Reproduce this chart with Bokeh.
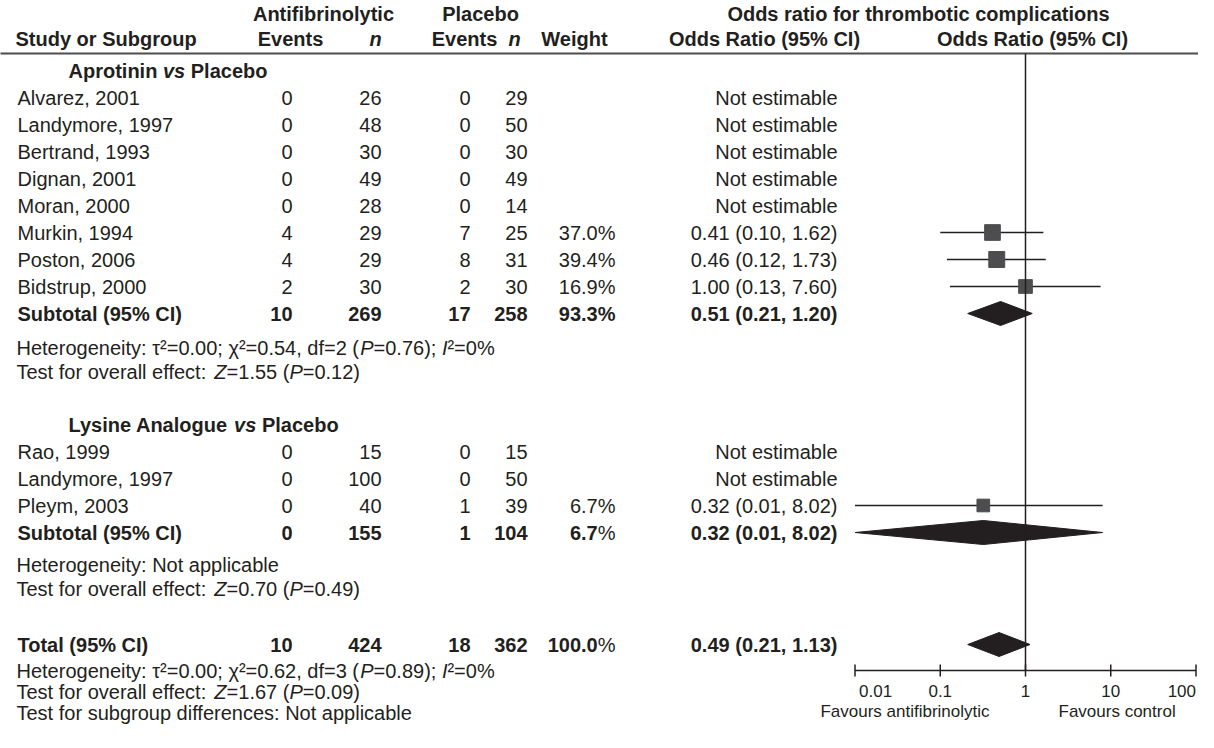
import math
from bokeh.plotting import figure
from bokeh.models import Range1d, LogScale
from bokeh.core.properties import value
from bokeh.embed import file_html
from bokeh.resources import INLINE

# ---------------- data ----------------
group_names = [("Aprotinin ", "vs", " Placebo"), ("Lysine Analogue ", "vs", " Placebo")]

g1_studies = ["Alvarez, 2001", "Landymore, 1997", "Bertrand, 1993", "Dignan, 2001",
              "Moran, 2000", "Murkin, 1994", "Poston, 2006", "Bidstrup, 2000"]
g1_ev_anti = [0, 0, 0, 0, 0, 4, 4, 2]
g1_n_anti = [26, 48, 30, 49, 28, 29, 29, 30]
g1_ev_plac = [0, 0, 0, 0, 0, 7, 8, 2]
g1_n_plac = [29, 50, 30, 49, 14, 25, 31, 30]
g1_weight = [None, None, None, None, None, 37.0, 39.4, 16.9]
g1_or = [None, None, None, None, None, 0.41, 0.46, 1.00]
g1_lo = [None, None, None, None, None, 0.10, 0.12, 0.13]
g1_hi = [None, None, None, None, None, 1.62, 1.73, 7.60]

g2_studies = ["Rao, 1999", "Landymore, 1997", "Pleym, 2003"]
g2_ev_anti = [0, 0, 0]
g2_n_anti = [15, 100, 40]
g2_ev_plac = [0, 0, 1]
g2_n_plac = [15, 50, 39]
g2_weight = [None, None, 6.7]
g2_or = [None, None, 0.32]
g2_lo = [None, None, 0.01]
g2_hi = [None, None, 8.02]

# subtotal group 1, subtotal group 2, total
sum_labels = ["Subtotal (95% CI)", "Subtotal (95% CI)", "Total (95% CI)"]
sum_ev_anti = [10, 0, 10]
sum_n_anti = [269, 155, 424]
sum_ev_plac = [17, 1, 18]
sum_n_plac = [258, 104, 362]
sum_weight = [93.3, 6.7, 100.0]
sum_or = [0.51, 0.32, 0.49]
sum_lo = [0.21, 0.01, 0.21]
sum_hi = [1.20, 8.02, 1.13]

het_tau2 = [0.00, None, 0.00]
het_chi2 = [0.54, None, 0.62]
het_df = [2, None, 3]
het_p = [0.76, None, 0.89]
het_i2 = [0, None, 0]
eff_z = [1.55, 0.70, 1.67]
eff_p = [0.12, 0.49, 0.09]

axis_ticks = [0.01, 0.1, 1, 10, 100]
axis_tick_labels = ["0.01", "0.1", "1", "10", "100"]
favours = ["Favours antifibrinolytic", "Favours control"]

# ---------------- style / layout ----------------
FONT = "Liberation Sans"
FS = 20
INK = "#231f20"
SQ = "#4d4d4f"
W, H = 1198, 732

REG = {' ': 278, '!': 278, '%': 889, '(': 333, ')': 333, ',': 278, '-': 333, '.': 278,
       ':': 278, ';': 278, '=': 584, 'τ': 480, 'χ': 500, '²': 333}
BOLD = {' ': 278, '%': 889, '(': 333, ')': 333, ',': 278, '.': 278, ':': 333, ';': 333, '=': 584}
for d in "0123456789":
    REG[d] = 556
    BOLD[d] = 556
REG.update(dict(zip("ABCDEFGHIJKLMNOPQRSTUVWXYZ",
                    [667, 667, 722, 722, 667, 611, 778, 722, 278, 500, 667, 556, 833, 722, 778,
                     667, 778, 722, 667, 611, 722, 667, 944, 667, 667, 611])))
REG.update(dict(zip("abcdefghijklmnopqrstuvwxyz",
                    [556, 556, 500, 556, 556, 278, 556, 556, 222, 222, 500, 222, 833, 556, 556,
                     556, 556, 333, 500, 278, 556, 500, 722, 500, 500, 500])))
BOLD.update(dict(zip("ABCDEFGHIJKLMNOPQRSTUVWXYZ",
                     [722, 722, 722, 722, 667, 611, 778, 722, 278, 556, 722, 611, 833, 722, 778,
                      667, 778, 722, 667, 611, 722, 667, 944, 667, 667, 611])))
BOLD.update(dict(zip("abcdefghijklmnopqrstuvwxyz",
                     [556, 611, 556, 611, 556, 333, 611, 611, 278, 278, 556, 278, 889, 611, 611,
                      611, 611, 389, 556, 333, 611, 556, 778, 556, 556, 500])))


def tw(s, style="normal", size=FS):
    tab = BOLD if "bold" in style else REG
    return sum(tab.get(c, 556) for c in s) * size / 1000.0


p = figure(width=W, height=H, x_range=Range1d(8, 8 + W), y_range=Range1d(8 + H, 8),
           output_backend="svg", toolbar_location=None, min_border=0,
           x_axis_location=None, y_axis_location=None, outline_line_color=None,
           background_fill_color="white", border_fill_color="white")
p.grid.grid_line_color = None

# log scale for forest plot part: OR=1 at x=1033, 85.25 px per decade
X1, DEC = 1033.0, 85.25
p.extra_x_ranges = {"log": Range1d(10 ** ((8 - X1) / DEC), 10 ** ((8 + W - X1) / DEC))}
p.extra_x_scales = {"log": LogScale()}


def txt(x, y, s, style="normal", align="left", size=FS, color=INK, **kw):
    p.text(x=[x], y=[y], text=[s], text_font=value(FONT), text_font_size=f"{size}px",
           text_font_style=style, text_align=align, text_baseline="middle",
           text_color=color, **kw)


def runs(x, y, parts, align="left", size=FS):
    total = sum(tw(t, st, size) for t, st in parts)
    cx = x if align == "left" else (x - total if align == "right" else x - total / 2)
    for t, st in parts:
        lead = t[:len(t) - len(t.lstrip(" "))]
        body = t.strip(" ")
        if body:
            txt(cx + tw(lead, st, size), y, body, st, "left", size)
        cx += tw(t, st, size)


def col(xs, ys, texts, align, style="normal", size=FS):
    p.text(x=xs, y=ys, text=texts, text_font=value(FONT), text_font_size=f"{size}px",
           text_font_style=style, text_align=align, text_baseline="middle", text_color=INK)


# column anchors
STUDY_X, GROUP_X = 25, 76
EV_A, N_A, EV_P, N_P, WT, OR_R = 300, 389, 478, 535, 623, 845

# row positions
PITCH = 27
Y_H1, Y_H2, Y_RULE = 21, 46, 61
y_g1 = 78
y_s1 = [y_g1 + PITCH * (i + 1) for i in range(len(g1_studies))]
y_sub1 = y_s1[-1] + PITCH
y_het1, y_test1 = y_sub1 + 34, y_sub1 + 58
y_g2 = y_test1 + 53
y_s2 = [y_g2 + PITCH * (i + 1) for i in range(len(g2_studies))]
y_sub2 = y_s2[-1] + PITCH
y_het2, y_test2 = y_sub2 + 32, y_sub2 + 56
y_tot = y_test2 + 56
y_het3, y_test3, y_sgd = y_tot + 26, y_tot + 47, y_tot + 68
Y_AXIS = 678

# ---------------- header ----------------
txt(331, Y_H1, "Antifibrinolytic", "bold", "center")
txt(488, Y_H1, "Placebo", "bold", "center")
txt(926, Y_H1, "Odds ratio for thrombotic complications", "bold", "center")
txt(23, Y_H2, "Study or Subgroup", "bold", "left")
txt(298, Y_H2, "Events", "bold", "center")
txt(383, Y_H2, "n", "bold italic", "center")
txt(472, Y_H2, "Events", "bold", "center")
txt(522, Y_H2, "n", "bold italic", "center")
txt(582, Y_H2, "Weight", "bold", "center")
txt(772, Y_H2, "Odds Ratio (95% CI)", "bold", "center")
txt(1040, Y_H2, "Odds Ratio (95% CI)", "bold", "center")
p.segment(x0=[7], x1=[8 + W], y0=[Y_RULE], y1=[Y_RULE], line_color="#4d4d4f", line_width=2)

# ---------------- study rows ----------------
def fmt_or(o, lo, hi):
    return "Not estimable" if o is None else f"{o:.2f} ({lo:.2f}, {hi:.2f})"


def study_block(ys, studies, ea, na, ep, npl, wt, o, lo, hi):
    col([STUDY_X] * len(ys), ys, studies, "left")
    col([EV_A] * len(ys), ys, [str(v) for v in ea], "right")
    col([N_A] * len(ys), ys, [str(v) for v in na], "right")
    col([EV_P] * len(ys), ys, [str(v) for v in ep], "right")
    col([N_P] * len(ys), ys, [str(v) for v in npl], "right")
    wy = [y for y, w in zip(ys, wt) if w is not None]
    col([WT] * len(wy), wy, [f"{w:.1f}%" for w in wt if w is not None], "right")
    col([OR_R] * len(ys), ys, [fmt_or(a, b, c) for a, b, c in zip(o, lo, hi)], "right")
    # forest marks
    fy = [y for y, v in zip(ys, o) if v is not None]
    fo = [v for v in o if v is not None]
    fl = [v for v in lo if v is not None]
    fh = [v for v in hi if v is not None]
    fw = [v for v in wt if v is not None]
    p.segment(x0=fl, x1=fh, y0=fy, y1=fy, line_color=INK, line_width=1.5, x_range_name="log")
    p.scatter(x=fo, y=fy, size=[12 + 0.1 * w for w in fw], marker="square",
              fill_color=SQ, line_color=SQ, x_range_name="log")


def summary_row(i, y):
    txt(STUDY_X, y, sum_labels[i], "bold")
    txt(EV_A, y, str(sum_ev_anti[i]), "bold", "right")
    txt(N_A, y, str(sum_n_anti[i]), "bold", "right")
    txt(EV_P, y, str(sum_ev_plac[i]), "bold", "right")
    txt(N_P, y, str(sum_n_plac[i]), "bold", "right")
    wnum = f"{sum_weight[i]:.1f}"
    if i == 0:
        runs(WT, y, [(wnum + "%", "bold")], "right")
    else:
        runs(WT, y, [(wnum, "bold"), ("%", "normal")], "right")
    txt(OR_R, y, fmt_or(sum_or[i], sum_lo[i], sum_hi[i]), "bold", "right")
    h = 12
    p.patches(xs=[[sum_lo[i], sum_or[i], sum_hi[i], sum_or[i]]],
              ys=[[y, y - h, y, y + h]], fill_color=INK, line_color=INK, line_width=1,
              x_range_name="log")


def stats_rows(i, y_het, y_test):
    if het_tau2[i] is None:
        runs(24, y_het, [("Heterogeneity: Not applicable", "normal")])
    else:
        runs(24, y_het, [
            (f"Heterogeneity: τ²={het_tau2[i]:.2f}; χ²={het_chi2[i]:.2f}, df={het_df[i]} (", "normal"),
            ("P", "italic"), (f"={het_p[i]:.2f}); ", "normal"),
            ("I", "italic"), (f"²={het_i2[i]}%", "normal")])
    runs(24, y_test, [("Test for overall effect: ", "normal"), ("Z", "italic"),
                      (f"={eff_z[i]:.2f} (", "normal"), ("P", "italic"),
                      (f"={eff_p[i]:.2f})", "normal")])


# group 1
runs(GROUP_X, y_g1, [(group_names[0][0], "bold"), (group_names[0][1], "bold italic"),
                     (group_names[0][2], "bold")])
study_block(y_s1, g1_studies, g1_ev_anti, g1_n_anti, g1_ev_plac, g1_n_plac,
            g1_weight, g1_or, g1_lo, g1_hi)
summary_row(0, y_sub1)
stats_rows(0, y_het1, y_test1)

# group 2
runs(GROUP_X, y_g2, [(group_names[1][0], "bold"), (group_names[1][1], "bold italic"),
                     (group_names[1][2], "bold")])
study_block(y_s2, g2_studies, g2_ev_anti, g2_n_anti, g2_ev_plac, g2_n_plac,
            g2_weight, g2_or, g2_lo, g2_hi)
summary_row(1, y_sub2)
stats_rows(1, y_het2, y_test2)

# total
summary_row(2, y_tot)
stats_rows(2, y_het3, y_test3)
runs(24, y_sgd, [("Test for subgroup differences: Not applicable", "normal")])

# ---------------- forest axis ----------------
p.segment(x0=[1], x1=[1], y0=[Y_RULE], y1=[Y_AXIS], line_color=INK, line_width=1.5,
          x_range_name="log")
p.segment(x0=[axis_ticks[0]], x1=[axis_ticks[-1]], y0=[Y_AXIS], y1=[Y_AXIS],
          line_color=INK, line_width=1.5, x_range_name="log")
p.segment(x0=axis_ticks, x1=axis_ticks, y0=[Y_AXIS - 6] * 5, y1=[Y_AXIS + 6] * 5,
          line_color=INK, line_width=1.5, x_range_name="log")
TS = 17
p.text(x=[axis_ticks[0]], y=[Y_AXIS + 20], text=[axis_tick_labels[0]], text_font=value(FONT),
       text_font_size=f"{TS}px", text_align="left", text_baseline="middle", text_color=INK,
       x_offset=4, x_range_name="log")
p.text(x=axis_ticks[1:4], y=[Y_AXIS + 20] * 3, text=axis_tick_labels[1:4], text_font=value(FONT),
       text_font_size=f"{TS}px", text_align="center", text_baseline="middle", text_color=INK,
       x_range_name="log")
p.text(x=[axis_ticks[-1]], y=[Y_AXIS + 20], text=[axis_tick_labels[-1]], text_font=value(FONT),
       text_font_size=f"{TS}px", text_align="right", text_baseline="middle", text_color=INK,
       x_range_name="log")
p.text(x=[1], y=[Y_AXIS + 41], text=[favours[0]], text_font=value(FONT),
       text_font_size=f"{TS}px", text_align="right", text_baseline="middle", text_color=INK,
       x_offset=-36, x_range_name="log")
p.text(x=[1], y=[Y_AXIS + 41], text=[favours[1]], text_font=value(FONT),
       text_font_size=f"{TS}px", text_align="left", text_baseline="middle", text_color=INK,
       x_offset=33, x_range_name="log")

open("out.html", "w").write(file_html(p, INLINE))
